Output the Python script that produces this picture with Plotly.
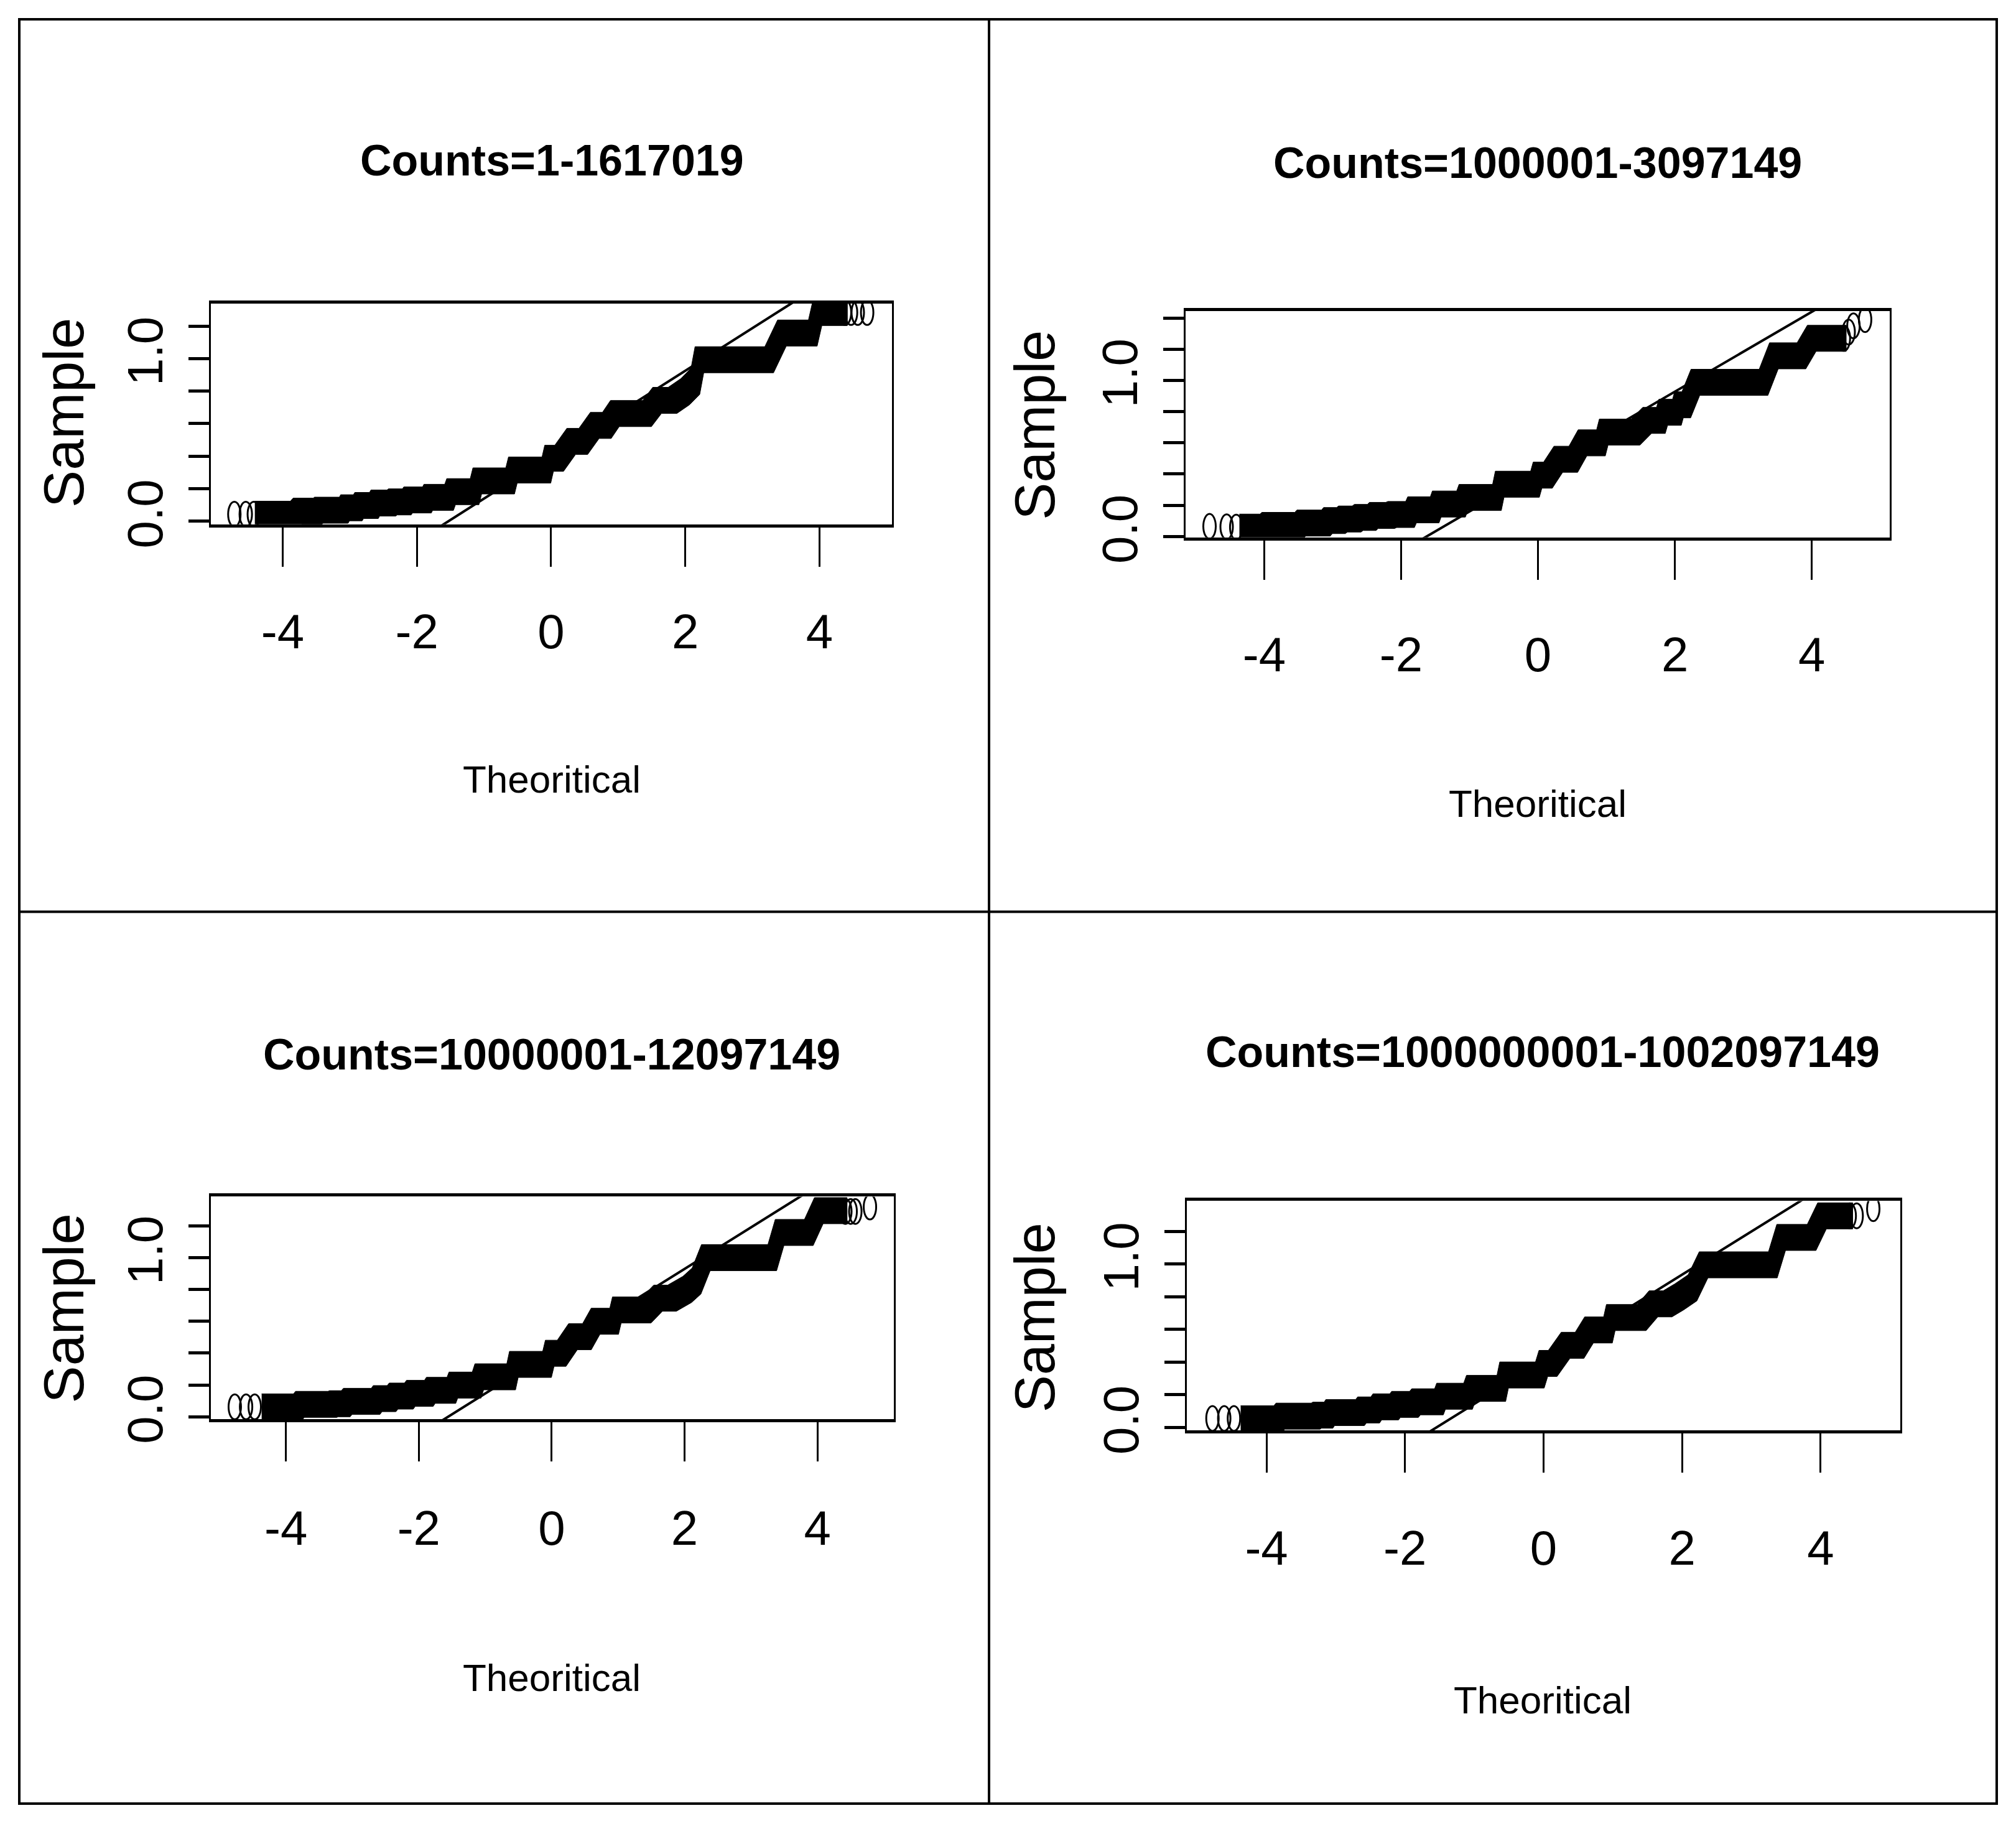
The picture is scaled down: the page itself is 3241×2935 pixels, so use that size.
import plotly.graph_objects as go

# page is 3241 wide; the browser adds an 8px body margin around the figure.
OFF = 8
KY = 1.014                      # vertical compensation of the captured page
W = 3241 - 2 * OFF
H = round(2935 * KY) - OFF

# ---------------- data ----------------
titles = ["Counts=1-1617019", "Counts=1000001-3097149",
          "Counts=10000001-12097149", "Counts=1000000001-1002097149"]

# dense part of each Q-Q cloud: centre line of the band (theoretical quantile, sample)
theo_1 = [-4.35, -3.82, -3.78, -3.48, -3.46, -3.09, -3.07, -2.88, -2.86, -2.64, -2.62, -2.38,
          -2.36, -2.15, -2.13, -1.85, -1.83, -1.52, -1.49, -1.14, -1.10, -0.61, -0.57, -0.07,
          -0.03, 0.12, 0.30, 0.48, 0.65, 0.83, 0.95, 1.43, 1.58, 1.81, 2.00, 2.15, 2.21, 3.25,
          3.44, 3.90, 3.97, 4.35]
samp_1 = [0.043, 0.043, 0.062, 0.062, 0.068, 0.068, 0.083, 0.083, 0.097, 0.097, 0.112, 0.112,
          0.119, 0.119, 0.131, 0.131, 0.147, 0.147, 0.182, 0.182, 0.248, 0.248, 0.315, 0.315,
          0.387, 0.387, 0.491, 0.491, 0.589, 0.589, 0.662, 0.662, 0.743, 0.743, 0.797, 0.860,
          0.993, 0.993, 1.157, 1.157, 1.283, 1.283]

theo_2 = [-4.30, -4.00, -3.97, -3.49, -3.46, -3.10, -3.07, -2.88, -2.85, -2.65, -2.62, -2.43,
          -2.40, -2.16, -2.13, -1.87, -1.84, -1.51, -1.48, -1.125, -1.09, -0.60, -0.56, -0.044,
          -0.007, 0.145, 0.297, 0.516, 0.65, 0.92, 0.96, 1.425, 1.594, 1.796, 1.83, 2.03, 2.06,
          2.167, 2.30, 3.296, 3.447, 3.85, 4.00, 4.44]
samp_2 = [0.060, 0.060, 0.071, 0.071, 0.086, 0.086, 0.102, 0.102, 0.112, 0.112, 0.122, 0.122,
          0.135, 0.135, 0.141, 0.141, 0.171, 0.171, 0.208, 0.208, 0.250, 0.250, 0.335, 0.335,
          0.393, 0.393, 0.495, 0.495, 0.600, 0.600, 0.669, 0.669, 0.744, 0.744, 0.796, 0.796,
          0.844, 0.844, 0.988, 0.988, 1.158, 1.158, 1.270, 1.270]

theo_3 = [-4.30, -3.82, -3.79, -3.30, -3.28, -3.10, -3.07, -2.65, -2.62, -2.41, -2.38, -2.15,
          -2.12, -1.85, -1.82, -1.51, -1.48, -1.13, -1.09, -0.61, -0.57, -0.07, -0.03, 0.15,
          0.32, 0.53, 0.66, 0.94, 0.98, 1.43, 1.60, 1.81, 2.04, 2.18, 2.32, 3.32, 3.43, 3.87,
          4.02, 4.38]
samp_3 = [0.062, 0.062, 0.078, 0.078, 0.082, 0.082, 0.097, 0.097, 0.114, 0.114, 0.130, 0.130,
          0.147, 0.147, 0.166, 0.166, 0.199, 0.199, 0.251, 0.251, 0.329, 0.329, 0.399, 0.399,
          0.503, 0.503, 0.600, 0.600, 0.671, 0.671, 0.745, 0.745, 0.800, 0.853, 1.000, 1.000,
          1.158, 1.158, 1.295, 1.295]

theo_4 = [-4.31, -3.83, -3.80, -3.29, -3.27, -3.105, -3.08, -2.65, -2.62, -2.43, -2.40, -2.156,
          -2.13, -1.87, -1.84, -1.51, -1.48, -1.09, -1.05, -0.61, -0.57, -0.054, -0.003, 0.132,
          0.318, 0.52, 0.656, 0.93, 0.97, 1.417, 1.586, 1.79, 1.96, 2.15, 2.31, 3.31, 3.43, 3.87,
          4.02, 4.40]
samp_4 = [0.053, 0.053, 0.069, 0.069, 0.075, 0.075, 0.091, 0.091, 0.107, 0.107, 0.126, 0.126,
          0.141, 0.141, 0.157, 0.157, 0.191, 0.191, 0.239, 0.239, 0.321, 0.321, 0.392, 0.392,
          0.503, 0.503, 0.597, 0.597, 0.673, 0.673, 0.757, 0.757, 0.800, 0.855, 0.996, 0.996,
          1.164, 1.164, 1.296, 1.296]

# isolated points in the two tails
tail_theo_1 = [-4.72, -4.55, -4.43, 4.38, 4.47, 4.57, 4.71]
tail_samp_1 = [0.043, 0.043, 0.043, 1.283, 1.283, 1.283, 1.283]
tail_theo_2 = [-4.80, -4.55, -4.41, 4.47, 4.54, 4.61, 4.78]
tail_samp_2 = [0.065, 0.062, 0.060, 1.270, 1.310, 1.350, 1.390]
tail_theo_3 = [-4.77, -4.60, -4.47, 4.42, 4.50, 4.57, 4.79]
tail_samp_3 = [0.062, 0.062, 0.062, 1.290, 1.290, 1.290, 1.318]
tail_theo_4 = [-4.78, -4.61, -4.47, 4.42, 4.52, 4.76]
tail_samp_4 = [0.055, 0.055, 0.055, 1.296, 1.296, 1.340]

# reference (qqline) through the quartiles
qq_intercept = [0.401, 0.4165, 0.407, 0.408]
qq_slope = [0.262, 0.2558, 0.261, 0.264]

x_ranges = [[-5.07, 5.08], [-5.15, 5.14], [-5.13, 5.15], [-5.15, 5.15]]
y_ranges = [[-0.019, 1.338], [-0.006, 1.445], [-0.016, 1.383], [-0.019, 1.387]]

x_tickvals = [-4, -2, 0, 2, 4]
x_ticktext = ["-4", "-2", "0", "2", "4"]
y_tickvals = [0.0, 0.2, 0.4, 0.6, 0.8, 1.0, 1.2, 1.4]
y_ticktext = ["0.0", "", "", "", "", "1.0", "", ""]

x_label = "Theoritical"
y_label = "Sample"

theos = [theo_1, theo_2, theo_3, theo_4]
samps = [samp_1, samp_2, samp_3, samp_4]
tail_theos = [tail_theo_1, tail_theo_2, tail_theo_3, tail_theo_4]
tail_samps = [tail_samp_1, tail_samp_2, tail_samp_3, tail_samp_4]

# ---------------- layout geometry (reference pixels) ----------------
boxes = [(339, 1434, 488, 843), (1906, 3038, 500, 864),
         (339, 1437, 1924, 2282), (1908, 3055, 1931, 2300)]
title_pos = [(887, 258), (2472, 262), (887, 1695), (2480, 1691)]
xlab_pos = [(887, 1253), (2472, 1292), (887, 2697), (2480, 2733)]
ylab_pos = [(103, 664), (1664, 684), (103, 2104), (1664, 2119)]
xlab_standoff = [38, 54, 40, 54]


def px(v):
    return (v - OFF) / W


def py(v):
    return 1 - (v * KY - OFF) / H


FONT = "Liberation Sans, Arial, sans-serif"

BAND_W_PX, BAND_H_PX = 7, 21     # half size of the marker cloud band
ELL_W_PX, ELL_H_PX = 10, 20      # half size of an open point

fig = go.Figure()
shapes = []
annotations = []

for i in range(4):
    xa = "x" if i == 0 else f"x{i+1}"
    ya = "y" if i == 0 else f"y{i+1}"
    bx0, bx1, by0, by1 = boxes[i]
    xr, yr = x_ranges[i], y_ranges[i]
    ppx = (bx1 - bx0) / (xr[1] - xr[0])
    ppy = (by1 - by0) / (yr[1] - yr[0])
    w, h = BAND_W_PX / ppx, BAND_H_PX / ppy
    ew, eh = ELL_W_PX / ppx, ELL_H_PX / ppy

    tx, sy = theos[i], samps[i]
    up_x = [x - w for x in tx] + [tx[-1] + w]
    up_y = [y + h for y in sy] + [sy[-1] + h]
    lo_x = [x + w for x in reversed(tx)] + [tx[0] - w]
    lo_y = [y - h for y in reversed(sy)] + [sy[0] - h]
    fig.add_trace(go.Scatter(
        x=up_x + lo_x, y=up_y + lo_y, mode="lines", fill="toself",
        fillcolor="black", line=dict(color="black", width=1),
        hoverinfo="skip", showlegend=False, xaxis=xa, yaxis=ya))

    # qqline
    fig.add_trace(go.Scatter(
        x=xr, y=[qq_intercept[i] + qq_slope[i] * x for x in xr], mode="lines",
        line=dict(color="black", width=4), hoverinfo="skip",
        showlegend=False, xaxis=xa, yaxis=ya))

    # open (elliptical) tail points
    for x, y in zip(tail_theos[i], tail_samps[i]):
        shapes.append(dict(type="circle", xref=xa, yref=ya,
                           x0=x - ew, x1=x + ew, y0=y - eh, y1=y + eh,
                           line=dict(color="black", width=3),
                           fillcolor="rgba(0,0,0,0)", layer="above"))

    xkey = "xaxis" if i == 0 else f"xaxis{i+1}"
    ykey = "yaxis" if i == 0 else f"yaxis{i+1}"
    fig.layout[xkey] = dict(
        domain=[px(bx0), px(bx1)], range=xr, anchor=ya,
        tickmode="array", tickvals=x_tickvals, ticktext=x_ticktext,
        ticks="outside", ticklen=63, tickwidth=3, tickcolor="black",
        showline=True, linewidth=5, linecolor="black", mirror=True,
        showgrid=False, zeroline=False, ticklabelstandoff=xlab_standoff[i],
        tickfont=dict(family=FONT, size=78, color="black"))
    fig.layout[ykey] = dict(
        domain=[py(by1), py(by0)], range=yr, anchor=xa,
        tickmode="array", tickvals=y_tickvals, ticktext=y_ticktext,
        ticks="outside", ticklen=33, tickwidth=5, tickcolor="black",
        showline=True, linewidth=3, linecolor="black", mirror=True,
        showgrid=False, zeroline=False, tickangle=-90, ticklabelstandoff=10,
        tickfont=dict(family=FONT, size=80, color="black"))

    annotations.append(dict(text=titles[i], xref="paper", yref="paper",
                            x=px(title_pos[i][0]), y=py(title_pos[i][1]),
                            xanchor="center", yanchor="middle", showarrow=False,
                            font=dict(family=FONT, size=70, color="black", weight=700)))
    annotations.append(dict(text=x_label, xref="paper", yref="paper",
                            x=px(xlab_pos[i][0]), y=py(xlab_pos[i][1]),
                            xanchor="center", yanchor="middle", showarrow=False,
                            font=dict(family=FONT, size=62, color="black")))
    annotations.append(dict(text=y_label, xref="paper", yref="paper",
                            x=px(ylab_pos[i][0]), y=py(ylab_pos[i][1]),
                            xanchor="center", yanchor="middle", showarrow=False,
                            textangle=-90,
                            font=dict(family=FONT, size=90, color="black")))

# table-like frame around the four panels
frame = dict(color="black", width=4)
shapes += [
    dict(type="rect", xref="paper", yref="paper", x0=px(31), x1=px(3210),
         y0=py(2900), y1=py(31), line=frame),
    dict(type="line", xref="paper", yref="paper", x0=px(1590), x1=px(1590),
         y0=py(2900), y1=py(31), line=frame),
    dict(type="line", xref="paper", yref="paper", x0=px(31), x1=px(3210),
         y0=py(1466), y1=py(1466), line=frame),
]

fig.update_layout(width=W, height=H, margin=dict(l=0, r=0, t=0, b=0),
                  paper_bgcolor="white", plot_bgcolor="white",
                  shapes=shapes, annotations=annotations, showlegend=False)

fig.write_html("out.html")
